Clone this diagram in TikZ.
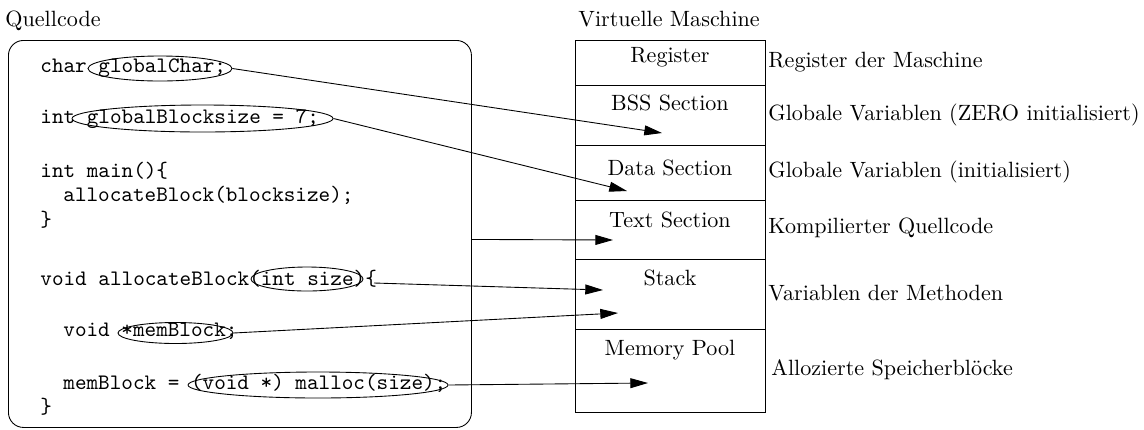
\documentclass[tikz,border=0pt]{standalone}
\usepackage{fontspec}
\usetikzlibrary{arrows.meta,shapes.geometric}
\def\pxu{0.4525pt}
\begin{document}
\begin{tikzpicture}[x=0.4525pt, y=-0.4525pt,
  plain/.style={inner sep=0, anchor=base west},
  codetext/.style={plain, font=\ttfamily},
  hilite/.style={draw, ellipse, inner sep=0, line width=0.4pt},
  cellbox/.style={draw, rectangle, minimum width=189.5*\pxu, inner sep=0, anchor=north, line width=0.4pt},
  celltext/.style={inner sep=0, anchor=base},
  pointer/.style={-{Triangle[length=8pt,width=4.5pt]}, line width=0.4pt}]
\useasboundingbox (0,0) rectangle (1144,429);

% headings
\node[plain] (qc) at (5,26) {Quellcode};
\node[plain] (vm) at (578,26) {Virtuelle Maschine};

% source code frame
\node[draw, rounded corners=15*\pxu, minimum width=463*\pxu, minimum height=387*\pxu,
      inner sep=0, anchor=north west, line width=0.4pt] (code) at (8,40) {};

% source lines
\node[codetext] (c1) at (40,72)  {char globalChar;};
\node[codetext] (c2) at (40,123) {int globalBlocksize = 7;};
\node[codetext] (c3) at (40,177) {int main()\{};
\node[codetext] (c4) at (63,201) {allocateBlock(blocksize);};
\node[codetext] (c5) at (40,226) {\}};
\node[codetext] (c6) at (40,285) {void allocateBlock(int size)\{};
\node[codetext] (c7) at (63,336) {void *memBlock;};
\node[codetext] (c8) at (63,389) {memBlock = (void *) malloc(size);};
\node[codetext] (c9) at (40,413) {\}};

% highlighted fragments
\node[hilite, minimum width=144*\pxu, minimum height=25*\pxu] (gchar) at (160,68.5) {};
\node[hilite, minimum width=261*\pxu, minimum height=27*\pxu] (gbs)   at (202.5,118.5) {};
\node[hilite, minimum width=112*\pxu, minimum height=24*\pxu] (isize) at (307,279) {};
\node[hilite, minimum width=115*\pxu, minimum height=21*\pxu] (mblk)  at (175.5,333) {};
\node[hilite, minimum width=260*\pxu, minimum height=26*\pxu] (mall)  at (318,385) {};

% memory layout of the virtual machine
\node[cellbox, minimum height=44.5*\pxu] (reg)   at (670.25,40)    {};
\node[cellbox, minimum height=60.5*\pxu] (bss)   at (670.25,84.5)  {};
\node[cellbox, minimum height=54.5*\pxu] (data)  at (670.25,145)   {};
\node[cellbox, minimum height=59*\pxu]   (text)  at (670.25,199.5) {};
\node[cellbox, minimum height=70.5*\pxu] (stack) at (670.25,258.5) {};
\node[cellbox, minimum height=83*\pxu]   (pool)  at (670.25,329)   {};

\node[celltext] (regt)   at (670,62)  {Register};
\node[celltext] (bsst)   at (670,110) {BSS Section};
\node[celltext] (datat)  at (670,175) {Data Section};
\node[celltext] (textt)  at (670,227) {Text Section};
\node[celltext] (stackt) at (670,285) {Stack};
\node[celltext] (poolt)  at (670,355) {Memory Pool};

% descriptions
\node[plain] (d1) at (768,67)  {Register der Maschine};
\node[plain] (d2) at (768,120) {Globale Variablen (ZERO initialisiert)};
\node[plain] (d3) at (768,177) {Globale Variablen (initialisiert)};
\node[plain] (d4) at (768,233) {Kompilierter Quellcode};
\node[plain] (d5) at (768,300) {Variablen der Methoden};
\node[plain] (d6) at (771,375) {Allozierte Speicherblöcke};

% arrow targets and starts
\coordinate (t1) at (662,133);
\coordinate (t2) at (627,191);
\coordinate (t3) at (613,240);
\coordinate (t4) at (603,290);
\coordinate (t5) at (618,313);
\coordinate (t6) at (648,383);
\coordinate (s4) at (374,283);

\draw[pointer] (gchar.east) -- (t1);
\draw[pointer] (gbs.east) -- (t2);
\draw[pointer] ([yshift=-5.5*\pxu]code.east) -- (t3);
\draw[pointer] (s4) -- (t4);
\draw[pointer] (mblk.east) -- (t5);
\draw[pointer] (mall.east) -- (t6);
\end{tikzpicture}
\end{document}
